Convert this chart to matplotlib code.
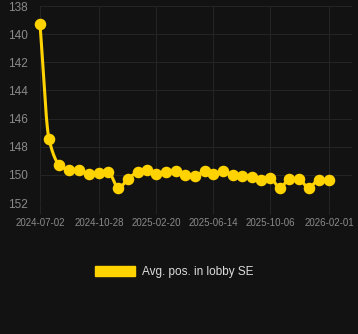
import numpy as np
import pandas as pd
import matplotlib
matplotlib.use('Agg')
import matplotlib.pyplot as plt
import matplotlib.dates as mdates
from matplotlib.patches import Patch

# data
dates = ['2024-07-02', '2024-07-20', '2024-08-10', '2024-08-30', '2024-09-18',
         '2024-10-08', '2024-10-28', '2024-11-16', '2024-12-06', '2024-12-25',
         '2025-01-14', '2025-02-02', '2025-02-20', '2025-03-12', '2025-04-01',
         '2025-04-19', '2025-05-08', '2025-05-28', '2025-06-14', '2025-07-04',
         '2025-07-23', '2025-08-11', '2025-08-31', '2025-09-18', '2025-10-06',
         '2025-10-26', '2025-11-13', '2025-12-03', '2025-12-22', '2026-01-11',
         '2026-02-01']
avg_pos = [139.3, 147.45, 149.3, 149.66, 149.66, 149.94, 149.87, 149.8, 150.94, 150.3,
           149.8, 149.66, 149.94, 149.8, 149.73, 150.0, 150.08, 149.73, 149.94, 149.73,
           150.0, 150.08, 150.15, 150.37, 150.22, 150.94, 150.3, 150.3, 150.94, 150.37,
           150.37]
tick_dates = ['2024-07-02', '2024-10-28', '2025-02-20', '2025-06-14', '2025-10-06', '2026-02-01']
y_ticks = [138, 140, 142, 144, 146, 148, 150, 152]
series_name = 'Avg. pos. in lobby SE'

bg = '#121212'
gold = '#FFD300'
txt = '#8a8a8a'
grid = '#242424'

x = pd.to_datetime(dates)
xn = mdates.date2num(x)
y = np.array(avg_pos)


# monotone cubic for the smooth line
def monotone(xs, ys, n=20):
    h = np.diff(xs)
    d = np.diff(ys) / h
    m = np.zeros(len(xs))
    m[0], m[-1] = d[0], d[-1]
    for i in range(1, len(xs) - 1):
        if d[i - 1] * d[i] <= 0:
            m[i] = 0
        else:
            w1 = 2 * h[i] + h[i - 1]
            w2 = h[i] + 2 * h[i - 1]
            m[i] = (w1 + w2) / (w1 / d[i - 1] + w2 / d[i])
    out_x, out_y = [], []
    for i in range(len(xs) - 1):
        t = np.linspace(0, 1, n, endpoint=False)
        h00 = 2 * t**3 - 3 * t**2 + 1
        h10 = t**3 - 2 * t**2 + t
        h01 = -2 * t**3 + 3 * t**2
        h11 = t**3 - t**2
        out_x.append(xs[i] + t * h[i])
        out_y.append(h00 * ys[i] + h10 * h[i] * m[i] + h01 * ys[i + 1] + h11 * h[i] * m[i + 1])
    out_x.append([xs[-1]])
    out_y.append([ys[-1]])
    return np.concatenate(out_x), np.concatenate(out_y)


sx, sy = monotone(xn, y)

W, H = 358, 334
fig = plt.figure(figsize=(W / 100, H / 100), dpi=100, facecolor=bg)
# plot area: x 40..352 px, y 6..203 px
ax = fig.add_axes([40 / W, 1 - 203 / H, (352 - 40) / W, (203 - 6) / H], facecolor=bg)

ax.plot(sx, sy, color=gold, lw=2.2, zorder=3, clip_on=False)
ax.plot(xn, y, 'o', color=gold, ms=7.3, zorder=4, clip_on=False, label=series_name)

ppd = 289 / 579.0
x0 = mdates.date2num(pd.Timestamp('2024-07-02'))
ax.set_xlim(x0, x0 + 312 / ppd)
ax.set_ylim(152, 138)

ax.set_yticks(y_ticks)
ax.set_xticks(mdates.date2num(pd.to_datetime(tick_dates)))
ax.set_xticklabels(tick_dates)
ax.tick_params(axis='y', length=0, labelsize=8.5, labelcolor=txt, pad=9)
ax.tick_params(axis='x', length=8, color=grid, labelsize=7, labelcolor=txt, pad=3)
for lab in ax.get_xticklabels() + ax.get_yticklabels():
    lab.set_fontfamily('Liberation Sans')
ax.grid(True, color=grid, lw=0.8)
for s in ax.spines.values():
    s.set_visible(False)

leg = fig.legend(handles=[Patch(color=gold, label=series_name)], loc='center',
                 bbox_to_anchor=(174 / W, 1 - 272 / H), frameon=False,
                 handlelength=3.4, handleheight=1.0, handletextpad=0.6,
                 prop={'family': 'Liberation Sans', 'size': 8.5})
for t in leg.get_texts():
    t.set_color('#dddddd')

fig.savefig('out.png', dpi=100, facecolor=bg)
